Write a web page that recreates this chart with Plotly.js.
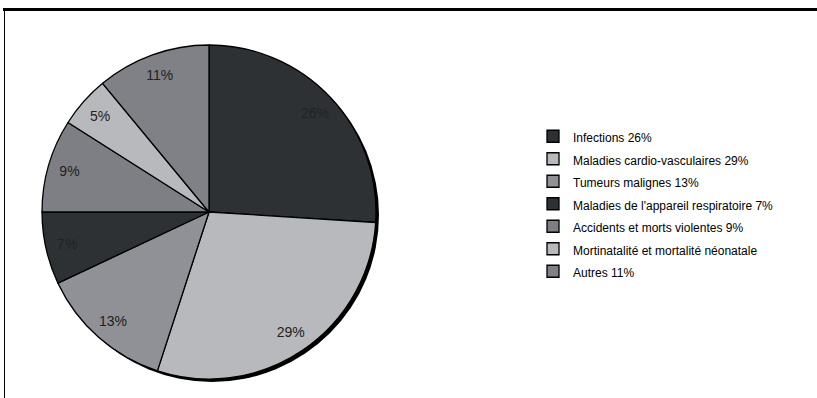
<!DOCTYPE html>
<html>
<head>
<meta charset="utf-8">
<script src="https://cdn.plot.ly/plotly-3.0.1.min.js"></script>
<style>html,body{margin:0;padding:0;background:#fff;}#chart{width:817px;height:398px;}</style>
</head>
<body>
<div id="chart"></div>
<script>
const categories = [
  "Infections 26%",
  "Maladies cardio-vasculaires 29%",
  "Tumeurs malignes 13%",
  "Maladies de l'appareil respiratoire 7%",
  "Accidents et morts violentes 9%",
  "Mortinatalité et mortalité néonatale",
  "Autres 11%"
];
const shares = [26, 29, 13, 7, 9, 5, 11];
const sliceColors = ["#2e3134", "#b8b9bd", "#909196", "#2e3134", "#7e7f84", "#b8b9bd", "#808186"];

const total = shares.reduce((a, b) => a + b, 0);
const W = 817, H = 398;
const cx = 209, cy = 212, R = 167, sh = 3;
const dom = (x, y, r) => ({
  x: [(x - r) / W, (x + r) / W],
  y: [(H - y - r) / H, (H - y + r) / H]
});

const shadow = {
  type: 'pie', values: [total], labels: ['shadow'], sort: false,
  marker: {colors: ['#000'], line: {width: 0}},
  textinfo: 'none', hoverinfo: 'skip', showlegend: false,
  domain: dom(cx + sh, cy + sh, R)
};
const main = {
  type: 'pie', values: shares,
  labels: categories.map(c => '<span style="font-size:12px">' + c + '</span>'),
  sort: false, direction: 'clockwise', rotation: 0,
  marker: {colors: sliceColors, line: {color: '#000', width: 1.3}},
  textinfo: 'none', hoverinfo: 'label+percent',
  domain: dom(cx, cy, R)
};
const labelsRing = {
  type: 'pie', values: shares, labels: categories,
  sort: false, direction: 'clockwise', rotation: 0, hole: 0.74,
  marker: {colors: categories.map(() => 'rgba(0,0,0,0)'), line: {width: 0}},
  texttemplate: '%{value}%', textposition: 'inside', insidetextorientation: 'horizontal',
  textfont: {family: 'Liberation Sans, Arial, sans-serif', size: 14, color: '#222'},
  hoverinfo: 'skip', showlegend: false,
  domain: dom(cx, cy, R)
};

const layout = {
  width: W, height: H,
  margin: {l: 0, r: 0, t: 0, b: 0},
  paper_bgcolor: '#fff',
  font: {family: 'Liberation Sans, Arial, sans-serif', color: '#000'},
  showlegend: true,
  legend: {
    x: 533 / W, y: (H - 120) / H, xanchor: 'left', yanchor: 'top',
    font: {size: 15, color: '#000'}, bgcolor: 'rgba(0,0,0,0)', traceorder: 'normal'
  },
  shapes: [
    {type: 'line', xref: 'paper', yref: 'paper', x0: 3 / W, x1: 1, y0: (H - 9.5) / H, y1: (H - 9.5) / H, line: {color: '#000', width: 3}},
    {type: 'line', xref: 'paper', yref: 'paper', x0: 4.5 / W, x1: 4.5 / W, y0: 0, y1: (H - 9) / H, line: {color: '#000', width: 1}}
  ]
};

Plotly.newPlot('chart', [shadow, main, labelsRing], layout, {displayModeBar: false, staticPlot: true});
</script>
</body>
</html>
